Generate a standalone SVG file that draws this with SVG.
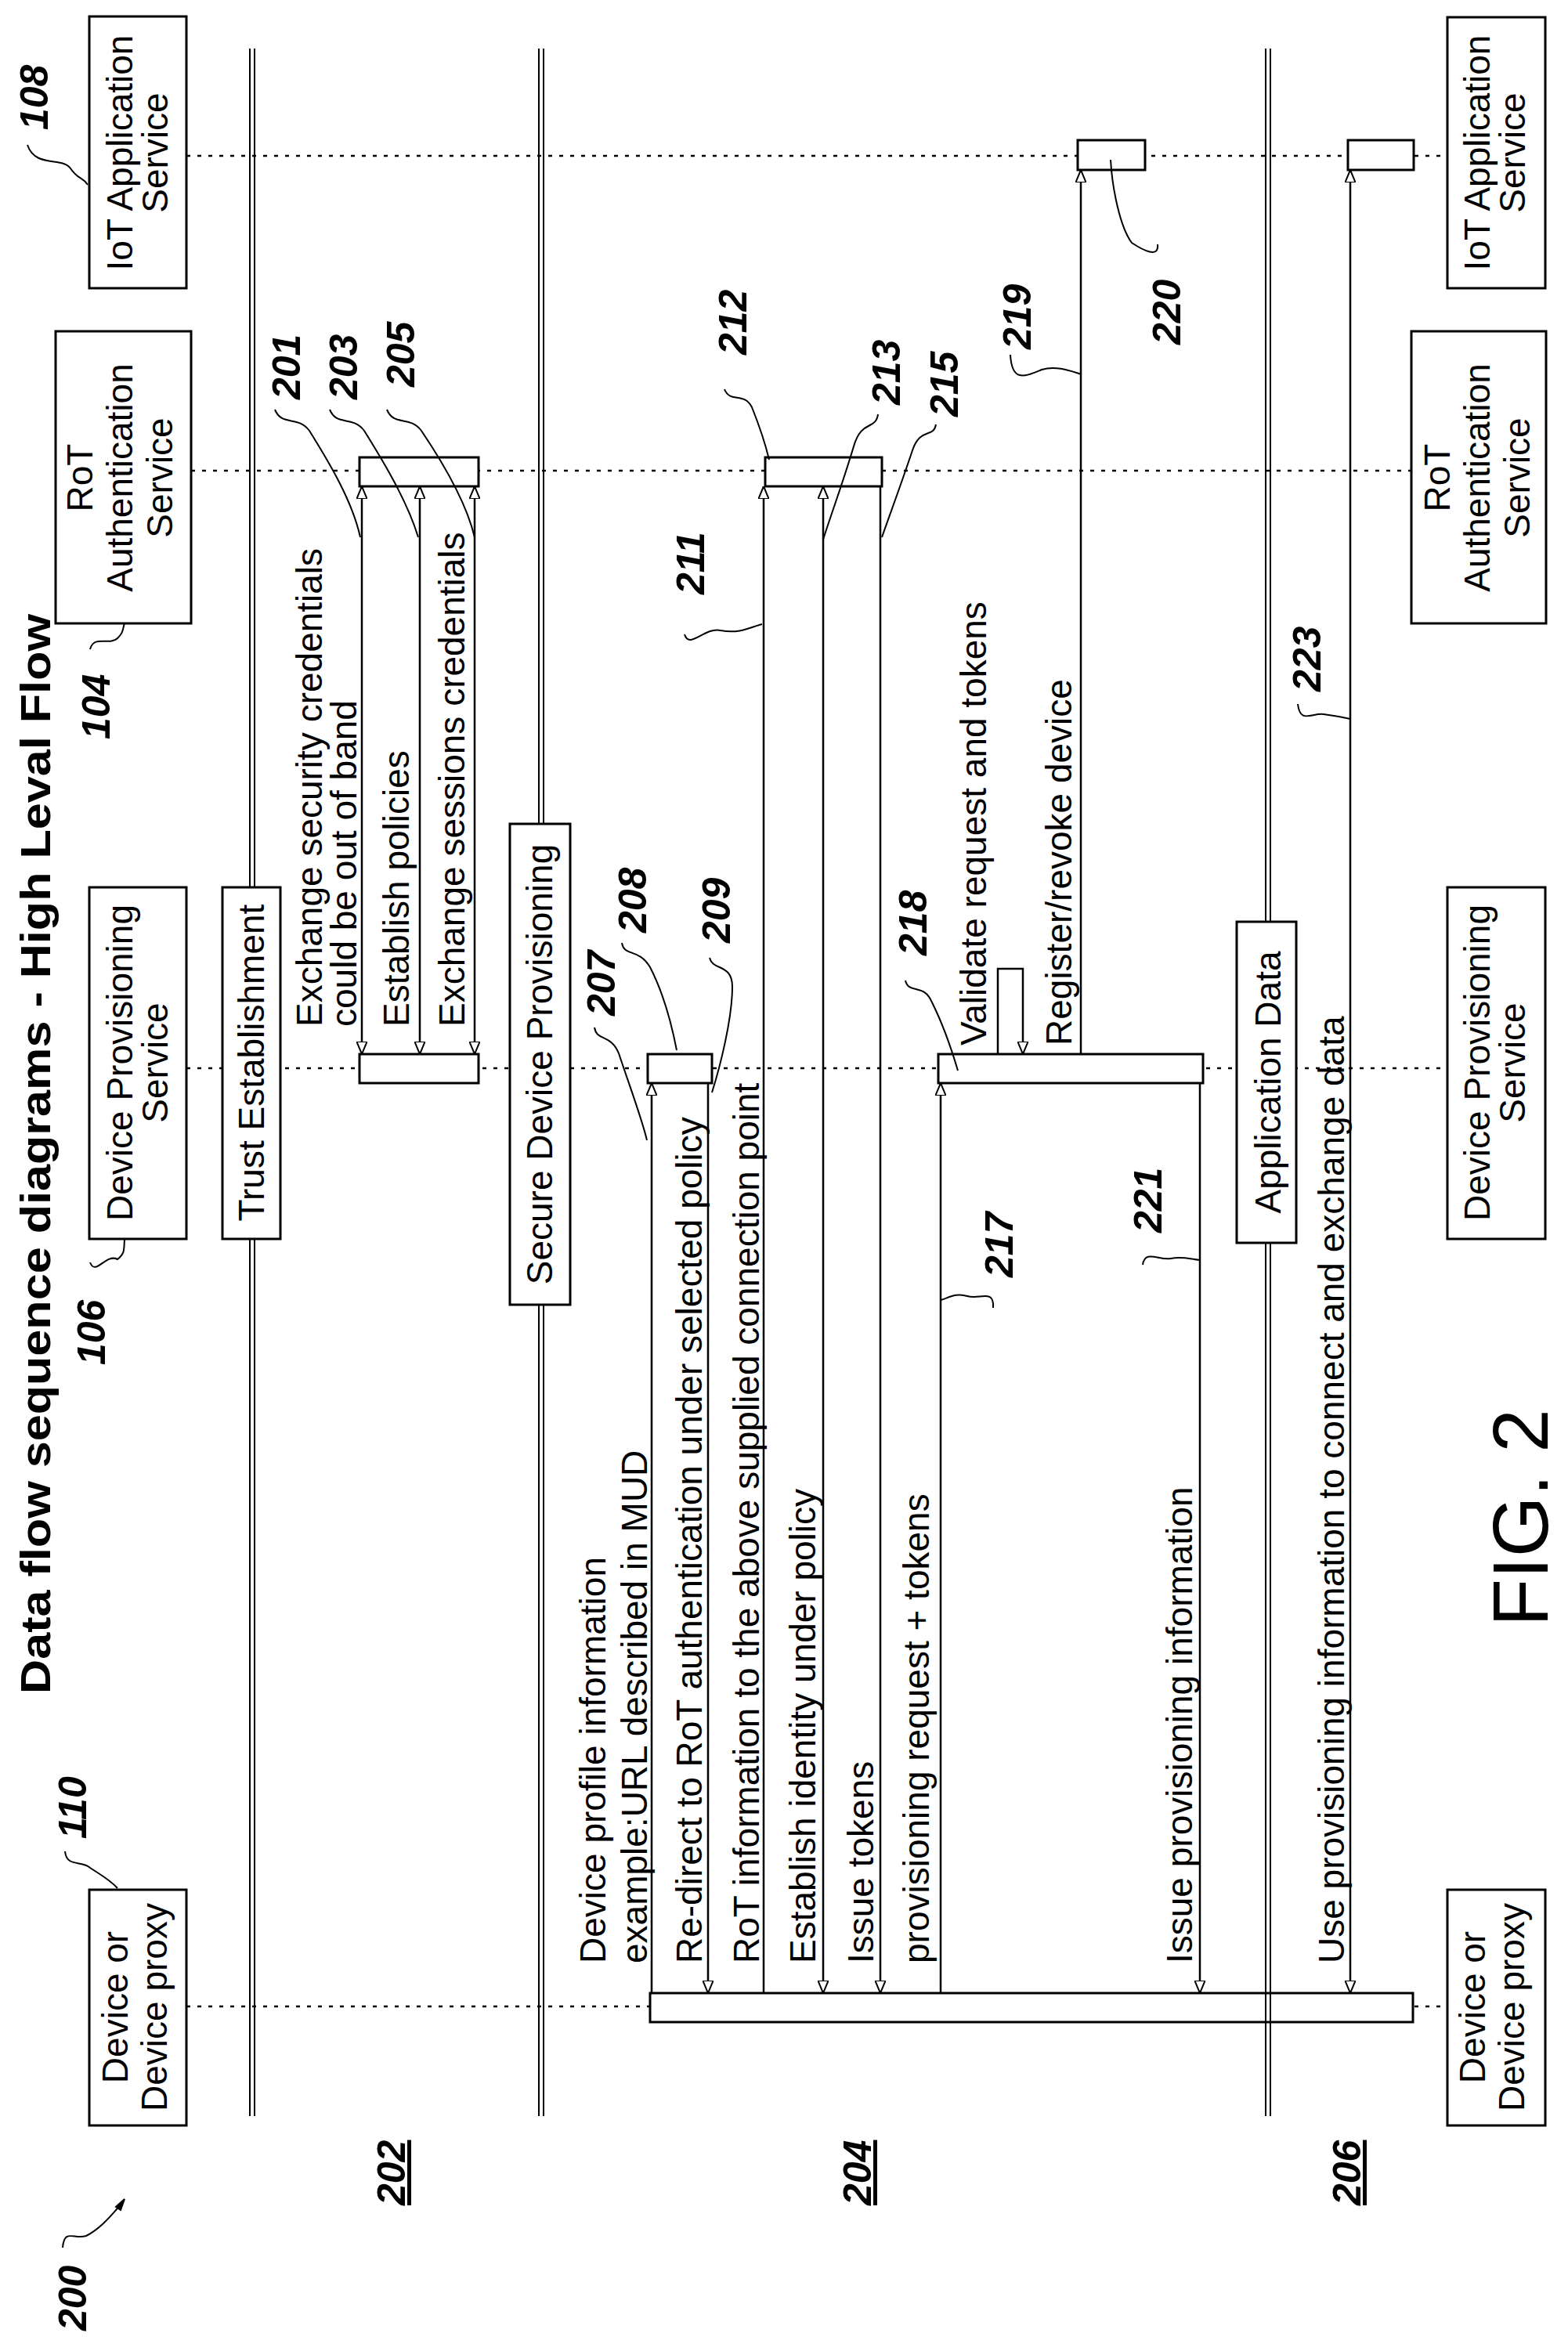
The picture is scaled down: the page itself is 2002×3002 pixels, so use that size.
<svg xmlns="http://www.w3.org/2000/svg" width="2002" height="3002" viewBox="0 0 2002 3002">
<style>
text{font-family:"Liberation Sans",Arial,sans-serif;fill:#000}
.t{font-size:46px}
.r{font-size:50px;font-weight:bold;font-style:italic}
.u{font-size:50px;font-weight:bold;font-style:italic;text-decoration:underline}
.box{fill:#fff;stroke:#000;stroke-width:3}
.life{stroke:#000;stroke-width:2.5;stroke-dasharray:5 9;fill:none}
.dbl{stroke:#000;stroke-width:2;fill:none}
.msg{stroke:#000;stroke-width:2.5;fill:none}
.ld{stroke:#000;stroke-width:2;fill:none}
</style>
<defs>
<marker id="ah" viewBox="0 0 12 10" refX="12" refY="5" markerWidth="16" markerHeight="14" markerUnits="userSpaceOnUse" orient="auto-start-reverse">
<path d="M0,0 L12,5 L0,10 z" fill="#fff" stroke="#000" stroke-width="1.5"/>
</marker>
</defs>
<rect width="2002" height="3002" fill="#fff"/>

<g id="lifelines">
<line class="life" x1="238" y1="199" x2="1848" y2="199"/>
<line class="life" x1="244" y1="601" x2="1802" y2="601"/>
<line class="life" x1="238" y1="1364" x2="1848" y2="1364"/>
<line class="life" x1="238" y1="2562" x2="1848" y2="2562"/>
</g>

<g id="activations">
<rect class="box" x="459" y="584" width="152" height="37"/>
<rect class="box" x="459" y="1346" width="152" height="37"/>
<rect class="box" x="827" y="1346" width="82" height="37"/>
<rect class="box" x="977" y="584" width="149" height="37"/>
<rect class="box" x="1198" y="1346" width="338" height="37"/>
<rect class="box" x="1376" y="179" width="86" height="38"/>
<rect class="box" x="1721" y="179" width="84" height="38"/>
<rect class="box" x="830" y="2545" width="974" height="37"/>
</g>

<g id="separators">
<line class="dbl" x1="319" y1="62" x2="319" y2="2702"/><line class="dbl" x1="325" y1="62" x2="325" y2="2702"/>
<line class="dbl" x1="688" y1="62" x2="688" y2="2702"/><line class="dbl" x1="694" y1="62" x2="694" y2="2702"/>
<line class="dbl" x1="1616" y1="62" x2="1616" y2="2702"/><line class="dbl" x1="1622" y1="62" x2="1622" y2="2702"/>
</g>

<g id="phase-trust"><rect class="box" x="284" y="1133" width="74" height="449"/><text class="t" text-anchor="middle" transform="translate(337,1357) rotate(-90)">Trust Establishment</text></g>
<g id="phase-secure"><rect class="box" x="651" y="1052" width="77" height="614"/><text class="t" text-anchor="middle" transform="translate(705,1359) rotate(-90)">Secure Device Provisioning</text></g>
<g id="phase-app"><rect class="box" x="1579" y="1177" width="76" height="410"/><text class="t" text-anchor="middle" transform="translate(1635,1382) rotate(-90)">Application Data</text></g>

<g id="iot-left"><rect class="box" x="114" y="21" width="124" height="347"/><text class="t" text-anchor="middle" transform="translate(169,195) rotate(-90)">IoT Application</text><text class="t" text-anchor="middle" transform="translate(214,195) rotate(-90)">Service</text></g>
<g id="rot-left"><rect class="box" x="71" y="423" width="173" height="373"/><text class="t" text-anchor="middle" transform="translate(118,610) rotate(-90)">RoT</text><text class="t" text-anchor="middle" transform="translate(169,610) rotate(-90)">Authentication</text><text class="t" text-anchor="middle" transform="translate(220,610) rotate(-90)">Service</text></g>
<g id="dps-left"><rect class="box" x="114" y="1133" width="124" height="449"/><text class="t" text-anchor="middle" transform="translate(169,1357) rotate(-90)">Device Provisioning</text><text class="t" text-anchor="middle" transform="translate(214,1357) rotate(-90)">Service</text></g>
<g id="dev-left"><rect class="box" x="114" y="2413" width="124" height="301"/><text class="t" text-anchor="middle" transform="translate(163,2563) rotate(-90)">Device or</text><text class="t" text-anchor="middle" transform="translate(213,2563) rotate(-90)">Device proxy</text></g>

<g id="iot-right"><rect class="box" x="1848" y="22" width="125" height="346"/><text class="t" text-anchor="middle" transform="translate(1902,195) rotate(-90)">IoT Application</text><text class="t" text-anchor="middle" transform="translate(1947,195) rotate(-90)">Service</text></g>
<g id="rot-right"><rect class="box" x="1802" y="423" width="172" height="373"/><text class="t" text-anchor="middle" transform="translate(1851,610) rotate(-90)">RoT</text><text class="t" text-anchor="middle" transform="translate(1902,610) rotate(-90)">Authentication</text><text class="t" text-anchor="middle" transform="translate(1953,610) rotate(-90)">Service</text></g>
<g id="dps-right"><rect class="box" x="1848" y="1133" width="125" height="449"/><text class="t" text-anchor="middle" transform="translate(1902,1357) rotate(-90)">Device Provisioning</text><text class="t" text-anchor="middle" transform="translate(1947,1357) rotate(-90)">Service</text></g>
<g id="dev-right"><rect class="box" x="1848" y="2413" width="125" height="301"/><text class="t" text-anchor="middle" transform="translate(1896,2563) rotate(-90)">Device or</text><text class="t" text-anchor="middle" transform="translate(1946,2563) rotate(-90)">Device proxy</text></g>

<g id="connectors">
<line class="msg" x1="462" y1="1346" x2="462" y2="621" marker-start="url(#ah)" marker-end="url(#ah)"/>
<line class="msg" x1="536" y1="1346" x2="536" y2="621" marker-start="url(#ah)" marker-end="url(#ah)"/>
<line class="msg" x1="606" y1="1346" x2="606" y2="621" marker-start="url(#ah)" marker-end="url(#ah)"/>
<line class="msg" x1="832" y1="2545" x2="832" y2="1383" marker-end="url(#ah)"/>
<line class="msg" x1="904" y1="1383" x2="904" y2="2545" marker-end="url(#ah)"/>
<line class="msg" x1="975" y1="2545" x2="975" y2="621" marker-end="url(#ah)"/>
<line class="msg" x1="1051" y1="2545" x2="1051" y2="621" marker-start="url(#ah)" marker-end="url(#ah)"/>
<line class="msg" x1="1124" y1="621" x2="1124" y2="2545" marker-end="url(#ah)"/>
<line class="msg" x1="1201" y1="2545" x2="1201" y2="1383" marker-end="url(#ah)"/>
<path class="msg" d="M1274,1346 V1237 H1306 V1346" marker-end="url(#ah)"/>
<line class="msg" x1="1380" y1="1346" x2="1380" y2="217" marker-end="url(#ah)"/>
<line class="msg" x1="1532" y1="1383" x2="1532" y2="2545" marker-end="url(#ah)"/>
<line class="msg" x1="1724" y1="2545" x2="1724" y2="217" marker-start="url(#ah)" marker-end="url(#ah)"/>
</g>

<g id="msg-labels">
<text class="t" transform="translate(411,1311) rotate(-90)">Exchange security credentials</text>
<text class="t" transform="translate(455,1311) rotate(-90)">could be out of band</text>
<text class="t" transform="translate(522,1311) rotate(-90)">Establish policies</text>
<text class="t" transform="translate(593,1311) rotate(-90)">Exchange sessions credentials</text>
<text class="t" transform="translate(773,2507) rotate(-90)">Device profile information</text>
<text class="t" transform="translate(826,2507) rotate(-90)">example:URL described in MUD</text>
<text class="t" transform="translate(896,2507) rotate(-90)">Re-direct to RoT authentication under selected policy</text>
<text class="t" transform="translate(969,2507) rotate(-90)">RoT information to the above supplied connection point</text>
<text class="t" transform="translate(1041,2507) rotate(-90)">Establish identity under policy</text>
<text class="t" transform="translate(1115,2507) rotate(-90)">Issue tokens</text>
<text class="t" transform="translate(1186,2507) rotate(-90)">provisioning request + tokens</text>
<text class="t" transform="translate(1259,1335) rotate(-90)">Validate request and tokens</text>
<text class="t" transform="translate(1368,1335) rotate(-90)">Register/revoke device</text>
<text class="t" transform="translate(1522,2507) rotate(-90)">Issue provisioning information</text>
<text class="t" transform="translate(1716,2507) rotate(-90)">Use provisioning information to connect and exchange data</text>
</g>

<g id="title"><text transform="translate(64,2163) rotate(-90)" font-size="54" font-weight="bold" textLength="1379" lengthAdjust="spacingAndGlyphs">Data flow sequence diagrams - High Leval Flow</text></g>

<g id="refs">
<path class="ld" d="M35,185 C45,215 80,200 90,215 C100,230 105,225 112,236"/>
<text class="r" transform="translate(61,166) rotate(-90)">108</text>
<path class="ld" d="M115,829 C120,810 140,825 150,815 C158,807 156,805 159,796"/>
<text class="r" transform="translate(140,944) rotate(-90)">104</text>
<path class="ld" d="M351,523 C360,545 380,530 395,550 C420,590 450,640 460,686"/>
<text class="r" transform="translate(383,510) rotate(-90)">201</text>
<path class="ld" d="M421,523 C430,545 450,530 465,550 C490,590 520,640 534,686"/>
<text class="r" transform="translate(456,510) rotate(-90)">203</text>
<path class="ld" d="M494,523 C503,545 523,530 538,550 C565,590 595,640 606,686"/>
<text class="r" transform="translate(529,494) rotate(-90)">205</text>
<path class="ld" d="M925,497 C932,515 950,500 960,520 C970,545 978,570 982,587"/>
<text class="r" transform="translate(953,453) rotate(-90)">212</text>
<path class="ld" d="M874,810 C880,830 900,800 920,805 C945,810 960,800 973,797"/>
<text class="r" transform="translate(899,759) rotate(-90)">211</text>
<path class="ld" d="M1121,529 C1118,550 1100,535 1090,570 C1075,620 1060,660 1051,689"/>
<text class="r" transform="translate(1149,517) rotate(-90)">213</text>
<path class="ld" d="M1195,542 C1192,560 1175,545 1165,575 C1150,620 1135,660 1126,686"/>
<text class="r" transform="translate(1223,532) rotate(-90)">215</text>
<path class="ld" d="M1290,453 C1292,490 1310,480 1330,472 C1350,466 1370,475 1381,478"/>
<text class="r" transform="translate(1316,446) rotate(-90)">219</text>
<path class="ld" d="M1478,312 C1480,330 1460,320 1445,310 C1430,290 1420,240 1418,204"/>
<text class="r" transform="translate(1507,440) rotate(-90)">220</text>
<path class="ld" d="M1657,899 C1660,925 1675,910 1690,912 C1705,914 1715,916 1724,918"/>
<text class="r" transform="translate(1686,883) rotate(-90)">223</text>
<path class="ld" d="M115,1612 C122,1630 135,1600 150,1608 C160,1600 158,1595 159,1583"/>
<text class="r" transform="translate(134,1743) rotate(-90)">106</text>
<path class="ld" d="M759,1312 C762,1330 780,1320 790,1345 C805,1390 820,1430 826,1456"/>
<text class="r" transform="translate(785,1297) rotate(-90)">207</text>
<path class="ld" d="M794,1204 C797,1222 815,1210 830,1235 C848,1270 858,1310 864,1341"/>
<text class="r" transform="translate(825,1191) rotate(-90)">208</text>
<path class="ld" d="M906,1223 C910,1240 935,1230 935,1260 C935,1300 920,1360 909,1395"/>
<text class="r" transform="translate(932,1204) rotate(-90)">209</text>
<path class="ld" d="M1156,1252 C1160,1270 1180,1255 1190,1280 C1205,1310 1215,1340 1223,1367"/>
<text class="r" transform="translate(1183,1220) rotate(-90)">218</text>
<path class="ld" d="M1268,1670 C1270,1645 1250,1660 1235,1655 C1220,1650 1210,1658 1201,1660"/>
<text class="r" transform="translate(1293,1631) rotate(-90)">217</text>
<path class="ld" d="M1459,1615 C1462,1595 1480,1610 1495,1607 C1510,1604 1520,1608 1533,1609"/>
<text class="r" transform="translate(1483,1574) rotate(-90)">221</text>
<path class="ld" d="M83,2364 C85,2385 105,2375 115,2385 C130,2395 140,2400 150,2411"/>
<text class="r" transform="translate(110,2348) rotate(-90)">110</text>
<path class="ld" d="M80,2870 C82,2845 95,2860 110,2855 C130,2845 145,2825 157,2812"/>
<path d="M159,2808 L148,2818 L154,2822 z" fill="#000" stroke="#000" stroke-width="2"/>
<text class="r" transform="translate(110,2976) rotate(-90)">200</text>
<text class="u" transform="translate(517,2816) rotate(-90)">202</text>
<text class="u" transform="translate(1112,2816) rotate(-90)">204</text>
<text class="u" transform="translate(1737,2816) rotate(-90)">206</text>
<text transform="translate(1976,2077) rotate(-90)" font-size="100">FIG. 2</text>
</g>
</svg>
